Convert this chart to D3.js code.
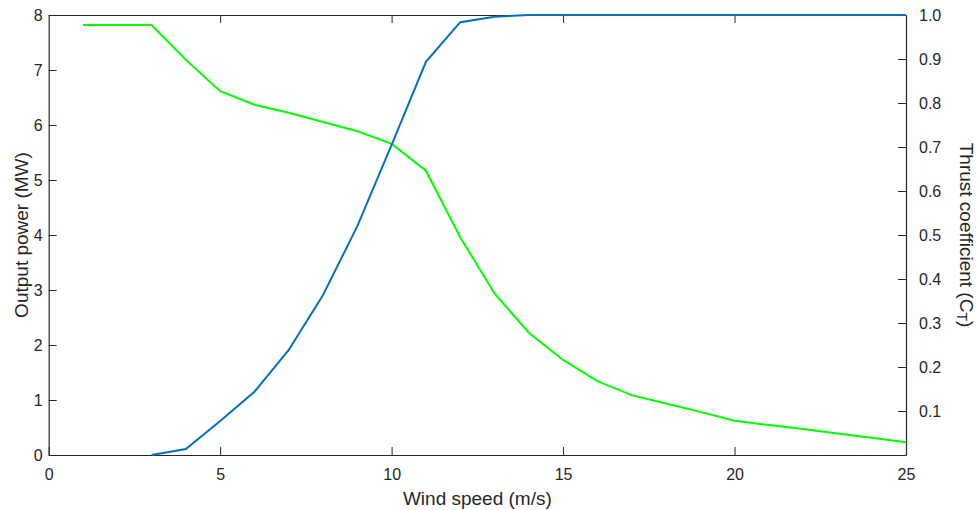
<!DOCTYPE html>
<html>
<head>
<meta charset="utf-8">
<script src="https://cdn.jsdelivr.net/npm/d3@7"></script>
<style>
  html, body { margin: 0; padding: 0; background: #fff; }
  svg { display: block; font-family: Arial, "Liberation Sans", Helvetica, sans-serif; }
</style>
</head>
<body>
<svg id="chart" width="979" height="510"></svg>
<script>
// ---- data ----
const windSpeedPower = [3,4,5,6,7,8,9,10,11,12,13,14,15,16,17,18,19,20,21,22,23,24,25];
const powerMW =        [0,0.11,0.62,1.15,1.91,2.91,4.16,5.64,7.15,7.87,7.97,8.0,8.0,8.0,8.0,8.0,8.0,8.0,8.0,8.0,8.0,8.0,8.0];
const windSpeedCt = [1,2,3,4,5,6,7,8,9,10,11,12,13,14,15,16,17,18,19,20,21,22,23,24,25];
const thrustCt =    [0.977,0.977,0.977,0.898,0.827,0.796,0.778,0.757,0.736,0.707,0.646,0.495,0.367,0.278,0.216,0.168,0.136,0.117,0.098,0.078,0.068,0.059,0.049,0.039,0.029];
const xTicks = [0,5,10,15,20,25];
const yLeftTicks = [0,1,2,3,4,5,6,7,8];
const yRightTicks = [0.1,0.2,0.3,0.4,0.5,0.6,0.7,0.8,0.9,1.0];

// ---- layout ----
const svg = d3.select("#chart");
const L = 48.7, R = 906, T = 15, B = 455;
const axisColor = "#262626";
const textColor = "#262626";

const x = d3.scaleLinear().domain([0,25]).range([L,R]);
const yL = d3.scaleLinear().domain([0,8]).range([B,T]);
const yR = d3.scaleLinear().domain([0,1]).range([B,T]);

const tick = 8;

// box top line with ticks
const gTop = svg.append("g").attr("transform",`translate(0,${T})`)
  .call(d3.axisTop(x).tickValues(xTicks).tickSizeInner(-tick).tickSizeOuter(0).tickFormat(""));
const gBot = svg.append("g").attr("transform",`translate(0,${B})`)
  .call(d3.axisBottom(x).tickValues(xTicks).tickSizeInner(-tick).tickSizeOuter(0).tickPadding(14).tickFormat(d3.format("d")));
const gLeft = svg.append("g").attr("transform",`translate(${L},0)`)
  .call(d3.axisLeft(yL).tickValues(yLeftTicks).tickSizeInner(-tick).tickSizeOuter(0).tickPadding(6).tickFormat(d3.format("d")));
const gRight = svg.append("g").attr("transform",`translate(${R},0)`)
  .call(d3.axisRight(yR).tickValues(yRightTicks).tickSizeInner(-tick).tickSizeOuter(0).tickPadding(13).tickFormat(d3.format(".1f")));

[gTop,gBot,gLeft,gRight].forEach(g => {
  g.select(".domain").attr("stroke", axisColor).attr("stroke-width", 1.2);
  g.selectAll(".tick line").attr("stroke", axisColor).attr("stroke-width", 1);
  g.selectAll(".tick text").attr("fill", textColor).style("font-size","16px")
    .style("font-family","Arial, 'Liberation Sans', Helvetica, sans-serif");
});
// top axis: hide end ticks at corners
gTop.selectAll(".tick").filter(d => d === 0 || d === 25).remove();

// ---- lines ----
const linePower = d3.line().x((d,i)=>x(windSpeedPower[i])).y(d=>yL(d));
const lineCt = d3.line().x((d,i)=>x(windSpeedCt[i])).y(d=>yR(d));

svg.append("path").datum(thrustCt).attr("d", lineCt)
  .attr("fill","none").attr("stroke","#00ff00").attr("stroke-width",2);
svg.append("path").datum(powerMW).attr("d", linePower)
  .attr("fill","none").attr("stroke","#0072bd").attr("stroke-width",2);

// ---- axis labels ----
svg.append("text").attr("x",(L+R)/2).attr("y",505).attr("text-anchor","middle")
  .attr("fill",textColor).style("font-size","19px").text("Wind speed (m/s)");

svg.append("text").attr("transform",`translate(28,${(T+B)/2}) rotate(-90)`)
  .attr("text-anchor","middle").attr("fill",textColor).style("font-size","19px")
  .text("Output power (MW)");

const rl = svg.append("text").attr("transform",`translate(960,${(T+B)/2}) rotate(90)`)
  .attr("text-anchor","middle").attr("fill",textColor).style("font-size","19px");
rl.append("tspan").text("Thrust coefficient (C");
rl.append("tspan").attr("baseline-shift","-20%").style("font-size","14px").text("T");
rl.append("tspan").text(")");
</script>
</body>
</html>
